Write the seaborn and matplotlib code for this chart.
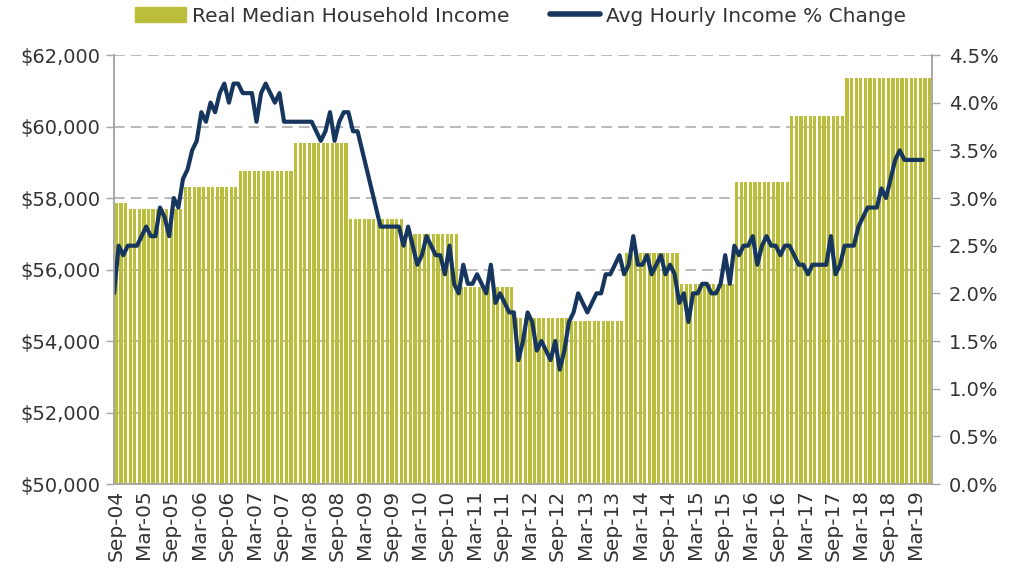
import numpy as np
import pandas as pd
import matplotlib.pyplot as plt
import seaborn as sns
from matplotlib.patches import Patch
from matplotlib.lines import Line2D
from matplotlib.ticker import FuncFormatter, MultipleLocator


# =============================================================================
# Data
# =============================================================================

# real median household income, one level per block of months
income_levels = [57850, 57700, 58300, 58750, 59550, 57400, 57000, 55500,
                 54650, 54550, 56450, 55600, 58450, 60300, 61350]
months_per_level = [3, 12, 12, 12, 12, 12, 12, 12, 12, 12, 12, 12, 12, 12, 19]

# avg hourly income, % change y/y (monthly, from Sep-04)
hourly_pct = [
    2.0, 2.5, 2.4, 2.5, 2.5, 2.5, 2.6, 2.7, 2.6, 2.6, 2.9, 2.8,
    2.6, 3.0, 2.9, 3.2, 3.3, 3.5, 3.6, 3.9, 3.8, 4.0, 3.9, 4.1,
    4.2, 4.0, 4.2, 4.2, 4.1, 4.1, 4.1, 3.8, 4.1, 4.2, 4.1, 4.0,
    4.1, 3.8, 3.8, 3.8, 3.8, 3.8, 3.8, 3.8, 3.7, 3.6, 3.7, 3.9,
    3.6, 3.8, 3.9, 3.9, 3.7, 3.7, 3.5, 3.3, 3.1, 2.9, 2.7, 2.7,
    2.7, 2.7, 2.7, 2.5, 2.7, 2.5, 2.3, 2.4, 2.6, 2.5, 2.4, 2.4,
    2.2, 2.5, 2.1, 2.0, 2.3, 2.1, 2.1, 2.2, 2.1, 2.0, 2.3, 1.9,
    2.0, 1.9, 1.8, 1.8, 1.3, 1.5, 1.8, 1.7, 1.4, 1.5, 1.4, 1.3,
    1.5, 1.2, 1.4, 1.7, 1.8, 2.0, 1.9, 1.8, 1.9, 2.0, 2.0, 2.2,
    2.2, 2.3, 2.4, 2.2, 2.3, 2.6, 2.3, 2.3, 2.4, 2.2, 2.3, 2.4,
    2.2, 2.3, 2.2, 1.9, 2.0, 1.7, 2.0, 2.0, 2.1, 2.1, 2.0, 2.0,
    2.1, 2.4, 2.1, 2.5, 2.4, 2.5, 2.5, 2.6, 2.3, 2.5, 2.6, 2.5,
    2.5, 2.4, 2.5, 2.5, 2.4, 2.3, 2.3, 2.2, 2.3, 2.3, 2.3, 2.3,
    2.6, 2.2, 2.3, 2.5, 2.5, 2.5, 2.7, 2.8, 2.9, 2.9, 2.9, 3.1,
    3.0, 3.2, 3.4, 3.5, 3.4, 3.4, 3.4, 3.4, 3.4,
]

start_month = '2004-09-01'

bar_color = '#BBBE3A'
line_color = '#17365D'
grid_color = '#A6A6A6'
text_color = '#333333'


# =============================================================================
# Build tables
# =============================================================================

income = np.repeat(income_levels, months_per_level)
n_months = len(income)
months = pd.date_range(start_month, periods=n_months, freq='MS')
month_labels = months.strftime('%b-%y')

df_bars = pd.DataFrame({'pos': np.arange(n_months), 'Income': income})
df_line = pd.DataFrame({'pos': np.arange(len(hourly_pct)) - 0.5,
                        'Pct': hourly_pct})


# =============================================================================
# Plot
# =============================================================================

sns.set_style('white')
plt.rcParams['font.family'] = ['DejaVu Sans']

fig = plt.figure(figsize=(10.21, 5.73), dpi=100)
ax = fig.add_axes([0.1117, 0.1553, 0.8011, 0.7487])

sns.barplot(data=df_bars, x='pos', y='Income', color=bar_color,
            saturation=1, width=0.7, linewidth=0, ax=ax)

ax2 = ax.twinx()
sns.lineplot(data=df_line, x='pos', y='Pct', ax=ax2, color=line_color,
             lw=3, solid_joinstyle='round', solid_capstyle='round')

ax.set_xlim(-0.5, n_months - 0.5)
ax.set_ylim(50000, 62000)
ax2.set_ylim(0, 4.5)

ax.yaxis.set_major_locator(MultipleLocator(2000))
ax.yaxis.set_major_formatter(FuncFormatter(lambda v, p: f'${v:,.0f}'))
ax2.yaxis.set_major_locator(MultipleLocator(0.5))
ax2.yaxis.set_major_formatter(FuncFormatter(lambda v, p: f'{v:.1f}%'))

tick_pos = np.arange(0, n_months, 6)
ax.set_xticks(tick_pos)
ax.set_xticklabels(month_labels[tick_pos], rotation=90)
ax.set_xticks(tick_pos - 0.5, minor=True)
ax.tick_params(axis='x', which='major', length=0, pad=4,
               labelsize=14.5, labelcolor=text_color)
ax.tick_params(axis='x', which='minor', length=5, width=1, color=grid_color,
               direction='out')
ax.tick_params(axis='y', length=6, width=1, color=grid_color,
               labelsize=14, labelcolor=text_color, pad=4)
ax2.tick_params(axis='y', length=6, width=1, color=grid_color,
                labelsize=14, labelcolor=text_color, pad=6)

ax.set_axisbelow(True)
ax.grid(axis='y', color=grid_color, lw=1.1, ls=(0, (7, 4)))
ax2.grid(False)

for a in (ax, ax2):
    a.set_xlabel('')
    a.set_ylabel('')
    a.spines['top'].set_visible(False)
    for side in ('left', 'right', 'bottom'):
        a.spines[side].set_color(grid_color)
        a.spines[side].set_linewidth(1.1)

handles = [Patch(color=bar_color), Line2D([], [], color=line_color, lw=4)]
labels = ['Real Median Household Income', 'Avg Hourly Income % Change']
fig.legend(handles, labels, loc='center', bbox_to_anchor=(0.51, 0.972),
           ncol=2, frameon=False, fontsize=14.5, handlelength=2.5,
           handletextpad=0.3, columnspacing=2.0, labelcolor=text_color)

plt.savefig('out.png', dpi=100)
